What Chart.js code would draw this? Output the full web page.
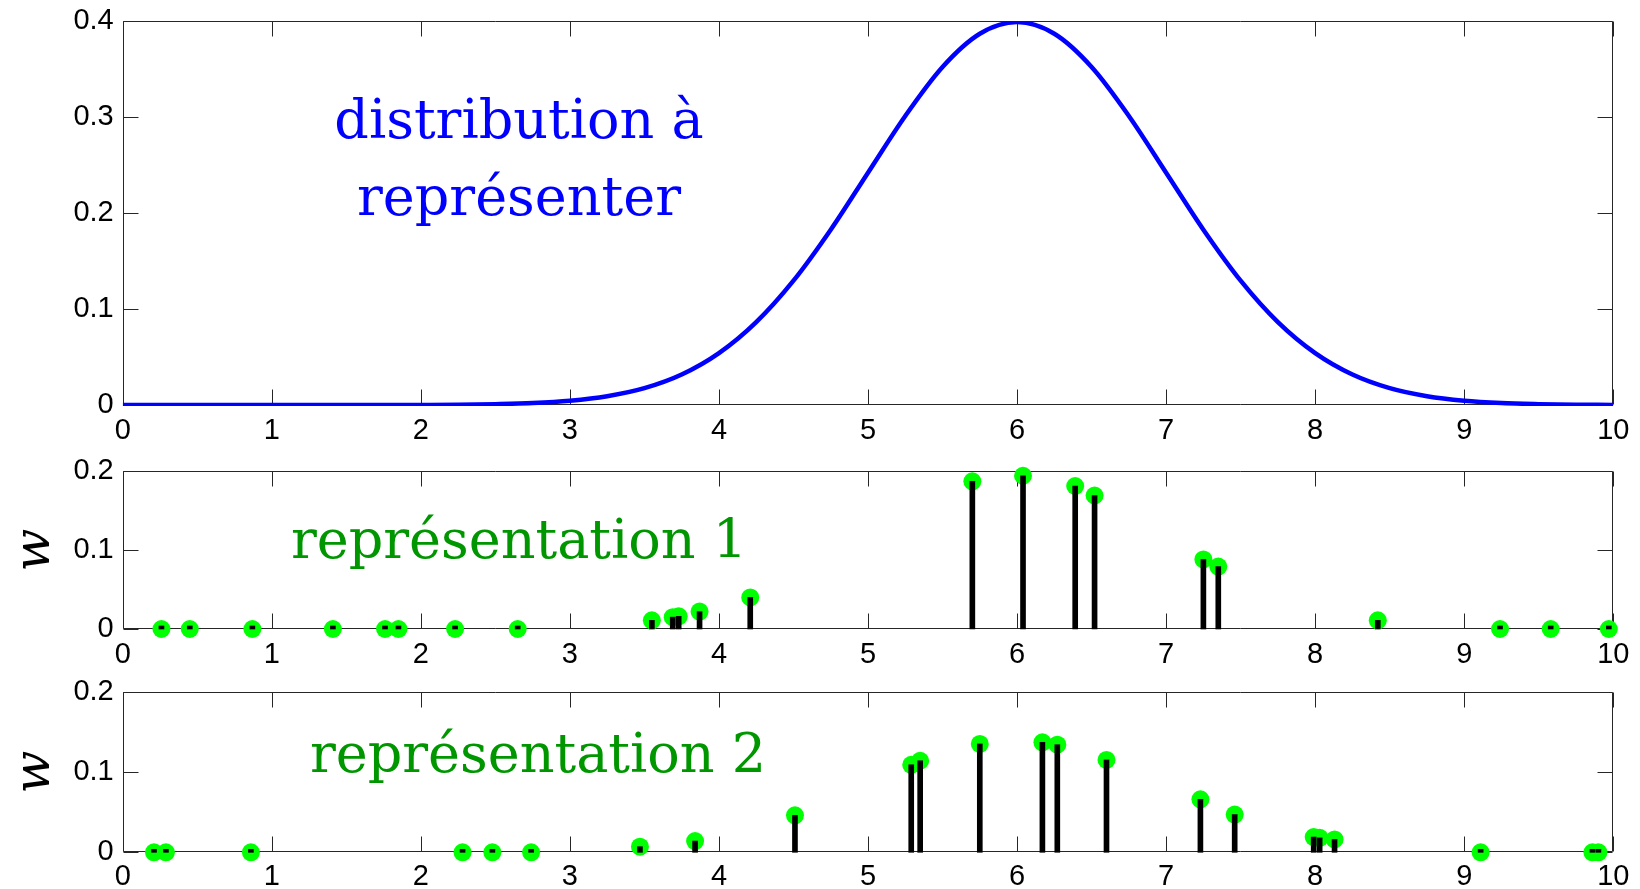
<!DOCTYPE html>
<html><head><meta charset="utf-8">
<script src="https://cdn.jsdelivr.net/npm/chart.js@4.4.1/dist/chart.umd.min.js"></script>
<style>
html,body{margin:0;padding:0;background:#fff;width:1640px;height:889px;overflow:hidden;}
.p{position:absolute;left:0;width:1640px;}
canvas{display:block;}
</style></head><body>
<div class="p" style="top:0;height:450px"><canvas id="c1" width="1640" height="450"></canvas></div>
<div class="p" style="top:450px;height:220px"><canvas id="c2" width="1640" height="220"></canvas></div>
<div class="p" style="top:670px;height:219px"><canvas id="c3" width="1640" height="219"></canvas></div>
<script>
// ---- data ----
const xTicks = [0,1,2,3,4,5,6,7,8,9,10];
const xTickLabels = ['0','1','2','3','4','5','6','7','8','9','10'];
const yTicksTop = [0,0.1,0.2,0.3,0.4];
const yTickLabelsTop = ['0','0.1','0.2','0.3','0.4'];
const yTicksRep = [0,0.1,0.2];
const yTickLabelsRep = ['0','0.1','0.2'];

const densityX = [0,0.25,0.5,0.75,1,1.25,1.5,1.75,2,2.25,2.5,2.75,3,3.25,3.5,3.75,4,4.25,4.5,4.75,5,5.25,5.5,5.75,6,6.25,6.5,6.75,7,7.25,7.5,7.75,8,8.25,8.5,8.75,9,9.25,9.5,9.75,10];
const densityY = [0,0,0,0,0,0,0,0,0.0001,0.0003,0.0009,0.002,0.0044,0.0091,0.0175,0.0317,0.054,0.0863,0.1295,0.1826,0.242,0.3011,0.3521,0.3867,0.3989,0.3867,0.3521,0.3011,0.242,0.1826,0.1295,0.0863,0.054,0.0317,0.0175,0.0091,0.0044,0.002,0.0009,0.0003,0.0001];

const rep1X = [0.26,0.45,0.87,1.41,1.76,1.85,2.23,2.65,3.55,3.69,3.73,3.87,4.21,5.70,6.04,6.39,6.52,7.25,7.35,8.42,9.24,9.58,9.97];
const rep1W = [0,0,0,0,0,0,0,0,0.011,0.015,0.016,0.022,0.040,0.187,0.194,0.181,0.169,0.088,0.079,0.011,0,0,0];

const rep2X = [0.21,0.29,0.86,2.28,2.48,2.74,3.47,3.84,4.51,5.29,5.35,5.75,6.17,6.27,6.60,7.23,7.46,7.99,8.03,8.13,9.11,9.86,9.90];
const rep2W = [0,0,0,0,0,0,0.007,0.014,0.046,0.109,0.114,0.135,0.137,0.134,0.115,0.066,0.047,0.019,0.018,0.016,0,0,0];

const titleTop = ['distribution à','représenter'];
const titleRep1 = 'représentation 1';
const titleRep2 = 'représentation 2';
const yTitleRep = 'w';

// ---- styling / layout ----
const PLOT_LEFT = 122.7, PLOT_RIGHT = 1613.3;
const TICK_FONT = {family:'"Liberation Sans", Arial, sans-serif', size:29};
const TEXT_FONT = '"DejaVu Serif", serif';
const FRAME = '#262626';

const framePlugin = {
  id:'frame',
  beforeDatasetsDraw(chart){
    const {ctx, chartArea:a, scales} = chart;
    ctx.save();
    ctx.strokeStyle = FRAME; ctx.lineWidth = 1;
    const L = Math.round(a.left)+0.5, R = Math.round(a.right)-0.5, T = Math.round(a.top)+0.5, B = Math.round(a.bottom)-0.5;
    ctx.beginPath();
    ctx.rect(L, T, R-L, B-T);
    const tl = 15;
    scales.x.ticks.forEach(t=>{
      const px = Math.round(scales.x.getPixelForValue(t.value))+0.5;
      ctx.moveTo(px, B); ctx.lineTo(px, B-tl);
      ctx.moveTo(px, T); ctx.lineTo(px, T+tl);
    });
    scales.y.ticks.forEach(t=>{
      const py = Math.round(scales.y.getPixelForValue(t.value))+0.5;
      ctx.moveTo(L, py); ctx.lineTo(L+tl, py);
      ctx.moveTo(R, py); ctx.lineTo(R-tl, py);
    });
    ctx.stroke();
    ctx.restore();
  }
};

function textPlugin(lines){
  return {
    id:'texts',
    afterDraw(chart){
      const ctx = chart.ctx;
      ctx.save();
      lines.forEach(l=>{
        ctx.font = l.size+'px '+TEXT_FONT;
        ctx.fillStyle = l.color;
        ctx.textAlign = 'center';
        ctx.textBaseline = 'alphabetic';
        ctx.fillText(l.text, l.x, l.y);
      });
      ctx.restore();
    }
  };
}

function makeScales(canvasH, plotBottom, yMax, yTicks, yLabels, xPad, withTitle){
  return {
    x:{
      type:'linear', min:0, max:10, offset:false,
      afterFit(s){ s.height = canvasH - plotBottom; s.paddingLeft = 0; s.paddingRight = 0; },
      afterBuildTicks(s){ s.ticks = xTicks.map(v=>({value:v})); },
      ticks:{font:TICK_FONT, color:'#000', padding:xPad, maxRotation:0, autoSkip:false,
        callback:(v,i)=>xTickLabels[i]},
      grid:{display:false, drawTicks:false, offset:false},
      border:{display:false}
    },
    y:{
      type:'linear', min:0, max:yMax,
      afterFit(s){ s.width = PLOT_LEFT; s.paddingTop = 0; s.paddingBottom = 0; },
      afterBuildTicks(s){ s.ticks = yTicks.map(v=>({value:v})); },
      ticks:{font:TICK_FONT, color:'#000', padding:9, autoSkip:false,
        callback:(v,i)=>yLabels[i]},
      grid:{display:false, drawTicks:false},
      border:{display:false},
      title: withTitle ? {display:true, text:yTitleRep, color:'#000',
        font:{family:TEXT_FONT, size:50, style:'italic'}, padding:{top:6,bottom:0}} : {display:false}
    }
  };
}

const common = {
  responsive:false, animation:false,
  plugins:{legend:{display:false}, tooltip:{enabled:false}}
};

// Panel 1
new Chart(document.getElementById('c1'), {
  type:'scatter',
  data:{datasets:[{
    type:'line',
    data: densityX.map((x,i)=>({x, y:densityY[i]})),
    borderColor:'#0000ff', borderWidth:4.5, pointRadius:0,
    cubicInterpolationMode:'monotone', fill:false,
    clip:{left:0, top:0, right:0, bottom:1}
  }]},
  options:Object.assign({}, common, {
    layout:{padding:{left:0, top:21, right:1640-PLOT_RIGHT, bottom:0}},
    scales: makeScales(450, 405, 0.4, yTicksTop, yTickLabelsTop, 8.5, false)
  }),
  plugins:[framePlugin, textPlugin([
    {text:titleTop[0], x:519, y:138, size:54, color:'#0000ff'},
    {text:titleTop[1], x:519, y:215, size:54, color:'#0000ff'}
  ])]
});

function stemChart(id, canvasH, plotTop, plotBottom, xs, ws, label, lx, ly, xPad){
  new Chart(document.getElementById(id), {
    type:'scatter',
    data:{datasets:[
      {
        type:'bar',
        data: xs.map((x,i)=>({x, y:ws[i]})),
        backgroundColor:'#000', barThickness:5, minBarLength:3,
        grouped:false, clip:false, order:0
      },
      {
        type:'scatter',
        data: xs.map((x,i)=>({x, y:ws[i]})),
        pointRadius:9, pointBackgroundColor:'#00ff00', pointBorderWidth:0,
        pointBorderColor:'#00ff00', showLine:false, clip:false, order:1
      }
    ]},
    options:Object.assign({}, common, {
      layout:{padding:{left:0, top:plotTop, right:1640-PLOT_RIGHT, bottom:0}},
      scales: makeScales(canvasH, plotBottom, 0.2, yTicksRep, yTickLabelsRep, xPad, true)
    }),
    plugins:[framePlugin, textPlugin([
      {text:label, x:lx, y:ly, size:54, color:'#009600'}
    ])]
  });
}

stemChart('c2', 220, 21, 179, rep1X, rep1W, titleRep1, 519, 108, 9);
stemChart('c3', 219, 21.7, 182.3, rep2X, rep2W, titleRep2, 538, 102, 7.5);
</script>
</body></html>
